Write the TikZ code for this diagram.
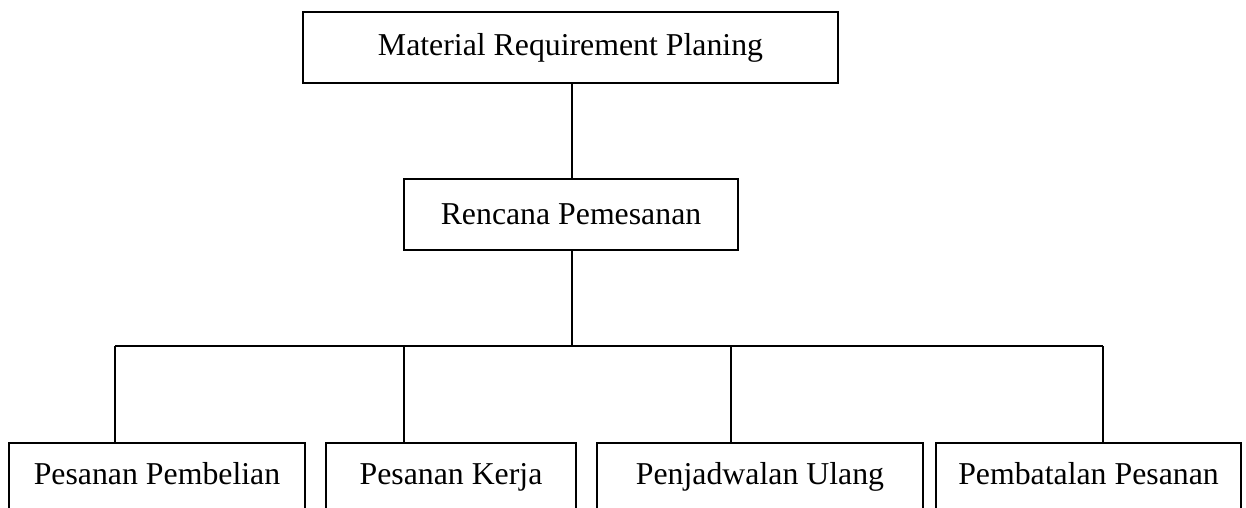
\documentclass[tikz,border=0pt]{standalone}
\usepackage{fontspec}
\setmainfont{Liberation Serif}
\begin{document}
\begin{tikzpicture}[x=1pt,y=1pt,
  box/.style={draw, line width=1.6pt, inner sep=0pt, font=\fontsize{31.8}{38}\selectfont},
  leaf/.style={box, anchor=base, text height=41pt, text depth=40pt},
  conn/.style={line width=1.1pt}]
\useasboundingbox (0,0) rectangle (1246,-508);
\clip (0,0) rectangle (1246,-508);
\node[box, minimum width=535pt, minimum height=71pt] (top) at (570.5,-47.5) {Material Requirement Planing};
\node[box, minimum width=334pt, minimum height=71pt] (mid) at (571,-214.5) {Rencana Pemesanan};
\node[leaf, minimum width=296pt] (b1) at (157,-484) {Pesanan Pembelian};
\node[leaf, minimum width=250pt] (b2) at (451,-484) {Pesanan Kerja};
\node[leaf, minimum width=326pt] (b3) at (760,-484) {Penjadwalan Ulang};
\node[leaf, minimum width=305pt] (b4) at (1088.5,-484) {Pembatalan Pesanan};
\coordinate (hub) at (572,-346);
\coordinate (j1) at (115,-346);
\coordinate (j2) at (404,-346);
\coordinate (j3) at (731,-346);
\coordinate (j4) at (1103,-346);
\draw[conn] (top.south -| hub) -- (mid.north -| hub);
\draw[conn] (mid.south -| hub) -- (hub);
\draw[conn] (j1) -- (j4);
\draw[conn] (j1) -- (j1 |- b1.north);
\draw[conn] (j2) -- (j2 |- b2.north);
\draw[conn] (j3) -- (j3 |- b3.north);
\draw[conn] (j4) -- (j4 |- b4.north);
\end{tikzpicture}
\end{document}
